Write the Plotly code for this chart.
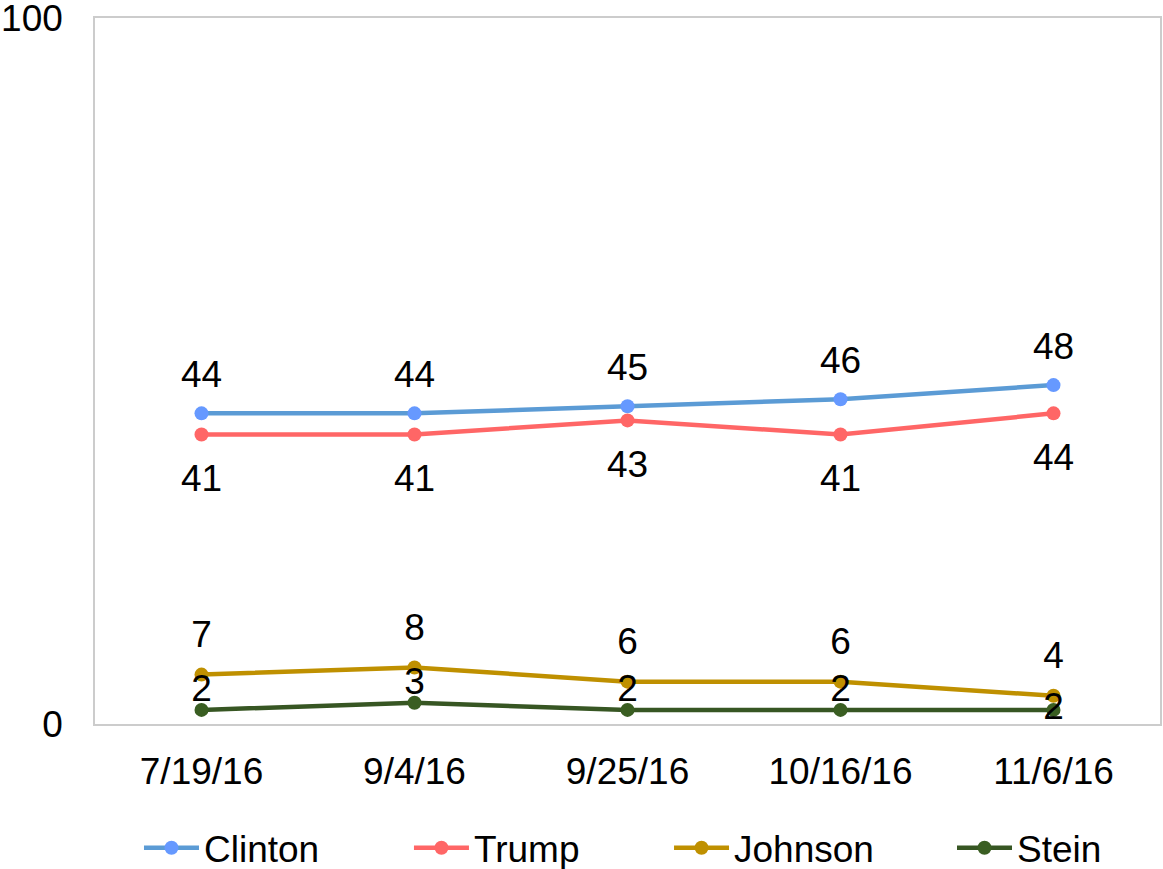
import plotly.graph_objects as go

dates = ["7/19/16", "9/4/16", "9/25/16", "10/16/16", "11/6/16"]
clinton = [44, 44, 45, 46, 48]
trump = [41, 41, 43, 41, 44]
johnson = [7, 8, 6, 6, 4]
stein = [2, 3, 2, 2, 2]

FONT = "Liberation Sans, Arial, sans-serif"

# name, values, line colour, marker colour, label position, label pad (invisible marker size), legend id, legend x
series = [
    ("Clinton", clinton, "#5B9BD5", "#6699FF", ["top center"] * 5, 26, "legend", 0.0413),
    ("Trump", trump, "#FF6666", "#FF6666", ["bottom center"] * 5, 44, "legend2", 0.2948),
    ("Johnson", johnson, "#BF9000", "#BF9000", ["top center"] * 5, 28, "legend3", 0.539),
    ("Stein", stein, "#375623", "#3A5E22", ["top center"] * 4 + ["middle center"], 0, "legend4", 0.8047),
]

fig = go.Figure()
legends = {}
for name, vals, lc, mc, pos, pad, leg, lx in series:
    fig.add_trace(go.Scatter(
        x=dates, y=vals,
        name=name,
        mode="lines+markers",
        line=dict(color=lc, width=4.5),
        marker=dict(color=mc, size=14),
        legend=leg,
    ))
    # data labels, pushed away from the points like Excel does
    fig.add_trace(go.Scatter(
        x=dates, y=vals,
        mode="markers+text" if pad else "text",
        marker=dict(size=pad, opacity=0) if pad else None,
        text=[str(v) for v in vals],
        textposition=pos,
        textfont=dict(size=37, color="black", family=FONT),
        cliponaxis=False,
        showlegend=False,
        hoverinfo="skip",
    ))
    legends[leg] = dict(
        orientation="h",
        x=lx, xanchor="left",
        y=-0.176, yanchor="middle",
        font=dict(size=37),
        itemwidth=55,
        bgcolor="rgba(0,0,0,0)",
    )

fig.update_layout(
    width=1163, height=869,
    paper_bgcolor="white",
    plot_bgcolor="white",
    font=dict(family=FONT, size=37, color="black"),
    margin=dict(l=95, r=3, t=18, b=145, autoexpand=False),
    showlegend=True,
    xaxis=dict(
        type="category",
        range=[-0.5, 4.5],
        showgrid=False,
        showline=True, mirror=True,
        linecolor="#CCCCCC", linewidth=1.5,
        ticks="",
        ticklabelstandoff=14,
    ),
    yaxis=dict(
        range=[0, 100],
        tickvals=[0, 100],
        showgrid=False,
        zeroline=False,
        showline=True, mirror=True,
        linecolor="#CCCCCC", linewidth=1.5,
        ticks="",
        ticklabelstandoff=23,
        ticklabeloverflow="allow",
    ),
    **legends,
)

fig.write_html(
    "out.html",
    config={"displayModeBar": False},
    post_script="document.body.style.margin='0';",
)
